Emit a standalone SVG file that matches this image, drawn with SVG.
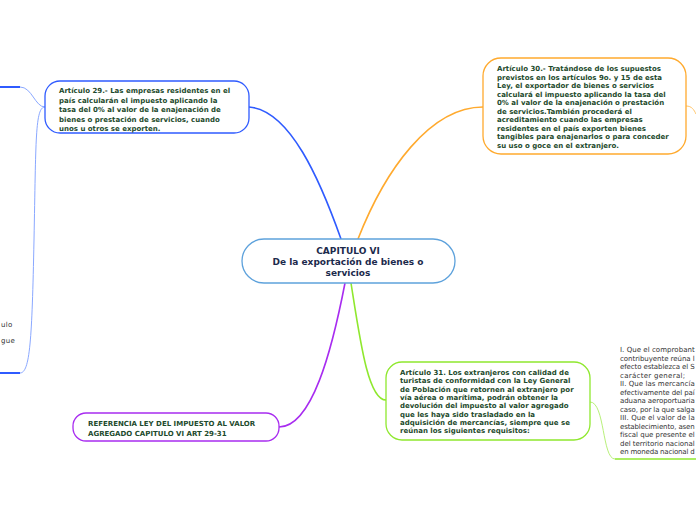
<svg xmlns="http://www.w3.org/2000/svg" width="696" height="520" viewBox="0 0 696 520">
<style>
.node{fill:#fff;stroke-width:1.3}
.t{font-family:"DejaVu Sans",Verdana,sans-serif;font-weight:bold;font-size:7px;fill:#1d4a2c}
.c{font-family:"DejaVu Sans",Verdana,sans-serif;font-weight:bold;font-size:9px;fill:#1c2a4c;text-anchor:middle}
.s{font-family:"DejaVu Sans",Verdana,sans-serif;font-size:7px;letter-spacing:0.3px;fill:#333}
.conn{fill:none;stroke-width:1.6}
</style>
<rect width="696" height="520" fill="#fff"/>
<g id="connectors">
<path class="conn" stroke="#2f5bff" d="M249,107 C290,110 320,180 341,239"/>
<path class="conn" stroke="#ffaa2e" d="M358,239 C385,170 430,107 483,107"/>
<path class="conn" stroke="#a82cf0" d="M345,283 C332,350 312,427 279,427"/>
<path class="conn" stroke="#8fe82e" d="M351,283 C360,340 368,400 386,400"/>
<path fill="none" stroke="#8aa8ff" stroke-width="1" d="M45,107 C35,107 32,87 20,87 M45,107 C35,107 36,140 34,240 C32,340 30,373 20,373"/>
<path fill="none" stroke="#ffc56a" stroke-width="1" d="M686,106 C692,106 694,110 696,114"/>
<path fill="none" stroke="#b8f07a" stroke-width="1" d="M590,402 C605,402 602,459 615,459"/>
</g>
<g id="left-partial">
<path stroke="#2f5bff" stroke-width="2" d="M0,87 H20 M0,373 H20"/>
<text class="s" x="1" y="327">ulo</text>
<text class="s" x="1" y="343">gue</text>
</g>
<g id="central">
<rect class="node" x="242" y="239" width="213" height="44" rx="22" stroke="#5ea2dc"/>
<text class="c" x="348" y="254">CAPITULO VI</text>
<text class="c" x="348" y="265">De la exportación de bienes o</text>
<text class="c" x="348" y="276">servicios</text>
</g>
<g id="art29">
<rect class="node" x="45" y="81" width="204" height="52" rx="15" stroke="#2f5bff"/>
<text class="t" x="59" y="93">Artículo 29.- Las empresas residentes en el</text>
<text class="t" x="59" y="102.5">país calcularán el impuesto aplicando la</text>
<text class="t" x="59" y="112">tasa del 0% al valor de la enajenación de</text>
<text class="t" x="59" y="121.5">bienes o prestación de servicios, cuando</text>
<text class="t" x="59" y="131">unos u otros se exporten.</text>
</g>
<g id="art30">
<rect class="node" x="483" y="58" width="203" height="96" rx="18" stroke="#ffaa2e"/>
<text class="t" x="497" y="71">Artículo 30.- Tratándose de los supuestos</text>
<text class="t" x="497" y="79.5">previstos en los artículos 9o. y 15 de esta</text>
<text class="t" x="497" y="88">Ley, el exportador de bienes o servicios</text>
<text class="t" x="497" y="96.5">calculará el impuesto aplicando la tasa del</text>
<text class="t" x="497" y="105">0% al valor de la enajenación o prestación</text>
<text class="t" x="497" y="113.5">de servicios.También procederá el</text>
<text class="t" x="497" y="122">acreditamiento cuando las empresas</text>
<text class="t" x="497" y="130.5">residentes en el país exporten bienes</text>
<text class="t" x="497" y="139">tangibles para enajenarlos o para conceder</text>
<text class="t" x="497" y="147.5">su uso o goce en el extranjero.</text>
</g>
<g id="art31">
<rect class="node" x="386" y="362" width="204" height="78" rx="16" stroke="#8fe82e"/>
<text class="t" x="400" y="375">Artículo 31. Los extranjeros con calidad de</text>
<text class="t" x="400" y="383.3">turistas de conformidad con la Ley General</text>
<text class="t" x="400" y="391.6">de Población que retornen al extranjero por</text>
<text class="t" x="400" y="399.9">vía aérea o marítima, podrán obtener la</text>
<text class="t" x="400" y="408.2">devolución del impuesto al valor agregado</text>
<text class="t" x="400" y="416.5">que les haya sido trasladado en la</text>
<text class="t" x="400" y="424.8">adquisición de mercancías, siempre que se</text>
<text class="t" x="400" y="433.1">reúnan los siguientes requisitos:</text>
</g>
<g id="art31-detail">
<path stroke="#8fe82e" stroke-width="1.5" d="M615,459 H696"/>
<text class="s" x="620" y="352" textLength="75">I. Que el comprobant</text>
<text class="s" x="620" y="360.5" textLength="75">contribuyente reúna l</text>
<text class="s" x="620" y="369" textLength="75">efecto establezca el S</text>
<text class="s" x="620" y="377.5">carácter general;</text>
<text class="s" x="620" y="386" textLength="75">II. Que las mercancía</text>
<text class="s" x="620" y="394.5" textLength="75">efectivamente del paí</text>
<text class="s" x="620" y="403" textLength="75">aduana aeroportuaria</text>
<text class="s" x="620" y="411.5" textLength="75">caso, por la que salga</text>
<text class="s" x="620" y="420" textLength="75">III. Que el valor de la</text>
<text class="s" x="620" y="428.5" textLength="75">establecimiento, asen</text>
<text class="s" x="620" y="437" textLength="75">fiscal que presente el</text>
<text class="s" x="620" y="445.5" textLength="75">del territorio nacional</text>
<text class="s" x="620" y="454" textLength="75">en moneda nacional d</text>
</g>
<g id="referencia">
<rect class="node" x="73" y="413" width="206" height="28" rx="13" stroke="#a82cf0"/>
<text class="t" x="88" y="426">REFERENCIA LEY DEL IMPUESTO AL VALOR</text>
<text class="t" x="88" y="435.5">AGREGADO CAPITULO VI ART 29-31</text>
</g>
</svg>
